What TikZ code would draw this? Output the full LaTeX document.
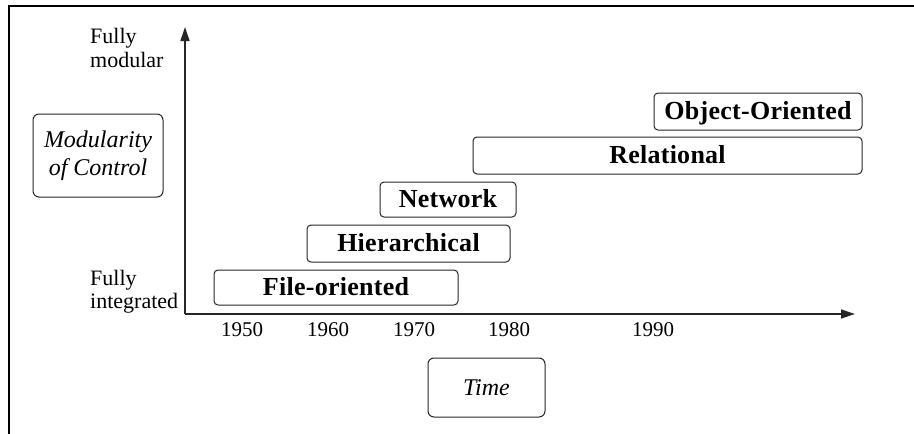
\documentclass[tikz,border=0pt]{standalone}
\usepackage{fontspec}
\setmainfont{Liberation Serif}
\usetikzlibrary{arrows.meta}
\begin{document}
\begin{tikzpicture}[x=1pt,y=-1pt,
  frame/.style={line width=2.5pt, black},
  axis/.style={line width=1.3pt, black!85, -{Triangle[length=14pt,width=9pt]}},
  era/.style={draw=black!85, line width=1pt, rounded corners=4pt, inner sep=0pt,
    text height=16pt, text depth=0pt,
    font=\fontsize{26}{30}\selectfont\bfseries\addfontfeatures{LetterSpace=1}},
  caption/.style={draw=black!85, line width=1pt, rounded corners=6pt, inner sep=0pt, align=center},
  year/.style={anchor=base, font=\fontsize{21}{24}\selectfont},
  lab/.style={anchor=base west, inner sep=0pt, font=\fontsize{22}{24}\selectfont}
]
\useasboundingbox (0,0) rectangle (914,434);
\fill[white] (0,0) rectangle (914,434);
% frame
\draw[frame] (8.8,434) -- (8.8,6) -- (914,6);
% axes
\coordinate (origin) at (185,314);
\coordinate (ytip) at (185,27);
\coordinate (xtip) at (855,314);
\draw[axis] (origin) -- (ytip);
\draw[axis] (origin) -- (xtip);
% axis labels
\node[lab] (fm1) at (90,43) {Fully};
\node[lab] (fm2) at (90,67) {modular};
\node[lab] (fi1) at (90,285) {Fully};
\node[lab] (fi2) at (90,308) {integrated};
% years
\node[year] (y1950) at (242,336) {1950};
\node[year] (y1960) at (328,336) {1960};
\node[year] (y1970) at (414,336) {1970};
\node[year] (y1980) at (509,336) {1980};
\node[year] (y1990) at (653,336) {1990};
% eras
\node[era, minimum width=244pt, minimum height=35pt] (file) at (336,287.5) {File-oriented};
\node[era, minimum width=203pt, minimum height=37pt] (hier) at (408.5,243.5) {Hierarchical};
\node[era, minimum width=136pt, minimum height=35pt] (net) at (448,199.5) {Network};
\node[era, minimum width=389pt, minimum height=37pt] (rel) at (667.5,155.5) {Relational};
\node[era, minimum width=208pt, minimum height=37pt] (oo) at (758,111.5) {Object-Oriented};
% captions
\node[caption, minimum width=130pt, minimum height=83pt,
  font=\fontsize{24}{28}\selectfont\itshape] (mod) at (98,155.5) {Modularity\\of Control};
\node[caption, minimum width=117pt, minimum height=59pt,
  font=\fontsize{24}{28}\selectfont\itshape] (time) at (486.5,387.5) {Time};
\end{tikzpicture}
\end{document}
